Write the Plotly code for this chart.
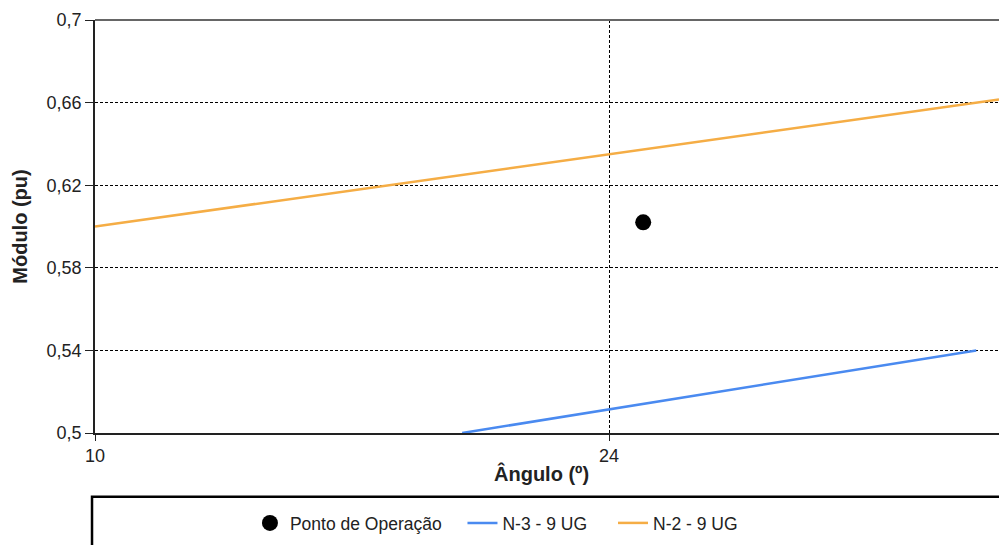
import plotly.graph_objects as go

# Operating point
ponto_x = [24.93]
ponto_y = [0.602]

# Limit curves (angle in degrees, magnitude in pu)
n3_x = [20.0, 34.0]
n3_y = [0.50, 0.54]

n2_x = [10.0, 34.62]
n2_y = [0.600, 0.6615]

x_ticks = [10, 24]
y_ticks = [0.50, 0.54, 0.58, 0.62, 0.66, 0.70]
y_tick_text = ["0,5", "0,54", "0,58", "0,62", "0,66", "0,7"]

FONT = "Liberation Sans, Arial, sans-serif"

fig = go.Figure()
fig.add_trace(go.Scatter(
    x=ponto_x, y=ponto_y, mode="markers", name="Ponto de Operação",
    marker=dict(color="black", size=16), cliponaxis=False, legend="legend",
))
fig.add_trace(go.Scatter(
    x=n3_x, y=n3_y, mode="lines", name="N-3 - 9 UG",
    line=dict(color="#4a8af0", width=2.5), legend="legend2",
))
fig.add_trace(go.Scatter(
    x=n2_x, y=n2_y, mode="lines", name="N-2 - 9 UG",
    line=dict(color="#f5ad45", width=2.5), legend="legend3",
))


def legend_box(x):
    return dict(
        orientation="h", x=x, xanchor="left", y=-0.218, yanchor="middle",
        font=dict(size=17.5, color="#222"), bgcolor="rgba(0,0,0,0)",
        itemwidth=30,
    )


fig.update_layout(
    width=999, height=545,
    margin=dict(l=95, r=0, t=20, b=112),
    paper_bgcolor="white", plot_bgcolor="white",
    font=dict(family=FONT, size=18, color="#222"),
    showlegend=True,
    legend=legend_box(0.1714),
    legend2=legend_box(0.4065),
    legend3=legend_box(0.5730),
    xaxis=dict(
        range=[10, 34.62], tickvals=x_ticks, ticktext=[str(v) for v in x_ticks],
        showline=True, linecolor="#222", linewidth=1.5,
        ticks="outside", ticklen=6, tickcolor="#222",
        showgrid=True, gridcolor="black", gridwidth=1, griddash="3px,2px",
        zeroline=False,
    ),
    yaxis=dict(
        range=[0.5, 0.7], tickvals=y_ticks, ticktext=y_tick_text,
        showline=True, linecolor="#222", linewidth=1.5,
        ticks="outside", ticklen=8, tickcolor="#222",
        showgrid=True, gridcolor="black", gridwidth=1, griddash="3px,2px",
        zeroline=False,
        title=dict(text="<b>Módulo (pu)</b>", font=dict(size=20), standoff=14),
    ),
    annotations=[
        # x-axis title
        dict(text="<b>Ângulo (º)</b>", xref="paper", yref="paper",
             x=0.4934, y=-0.0969, xanchor="center", yanchor="middle",
             showarrow=False, font=dict(size=20, color="#222")),
    ],
    shapes=[
        # top frame line of the plotting area
        dict(type="line", xref="paper", yref="paper", x0=0, x1=1, y0=1, y1=1,
             line=dict(color="#666", width=2), layer="above"),
        # legend frame
        dict(type="rect", xref="paper", yref="paper", x0=-0.0033, x1=1.05,
             y0=-0.4, y1=-0.1545, line=dict(color="black", width=2.5),
             fillcolor="rgba(0,0,0,0)"),
    ],
)

fig.write_html("out.html")
